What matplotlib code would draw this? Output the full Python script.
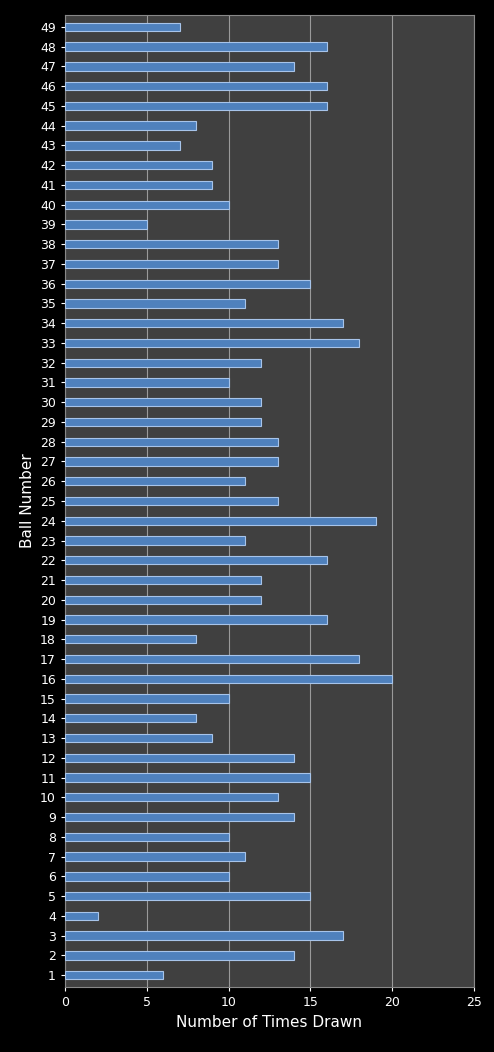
import matplotlib
matplotlib.use('Agg')
import matplotlib.pyplot as plt
import numpy as np

balls = list(range(1, 50))
counts = [6, 14, 17, 2, 15, 10, 11, 10, 14, 13,
          15, 14, 9, 8, 10, 20, 18, 8, 16, 12,
          12, 16, 11, 19, 13, 11, 13, 13, 12, 12,
          10, 12, 18, 17, 11, 15, 13, 13, 5, 10,
          9, 9, 7, 8, 16, 16, 14, 16, 7]

fig = plt.figure(figsize=(4.94, 10.52), dpi=100, facecolor='black')
ax = fig.add_axes([65/494, 1 - 987/1052, 409/494, 972/1052])
ax.set_facecolor('#404040')

ax.barh(balls, counts, height=0.42, color='#4F81BD', edgecolor='#A7C4EA', linewidth=0.8, zorder=3)

ax.set_xlim(0, 25)
ax.set_ylim(0.4, 49.6)
ax.set_xticks([0, 5, 10, 15, 20, 25])
ax.set_yticks(balls)
ax.xaxis.grid(True, color='#9a9a9a', linewidth=0.8, zorder=0)
ax.tick_params(colors='white', labelsize=9, length=3)
for s in ax.spines.values():
    s.set_color('#888888')
ax.set_xlabel('Number of Times Drawn', color='white', fontsize=11)
ax.set_ylabel('Ball Number', color='white', fontsize=11)

fig.savefig('out.png', facecolor='black')
